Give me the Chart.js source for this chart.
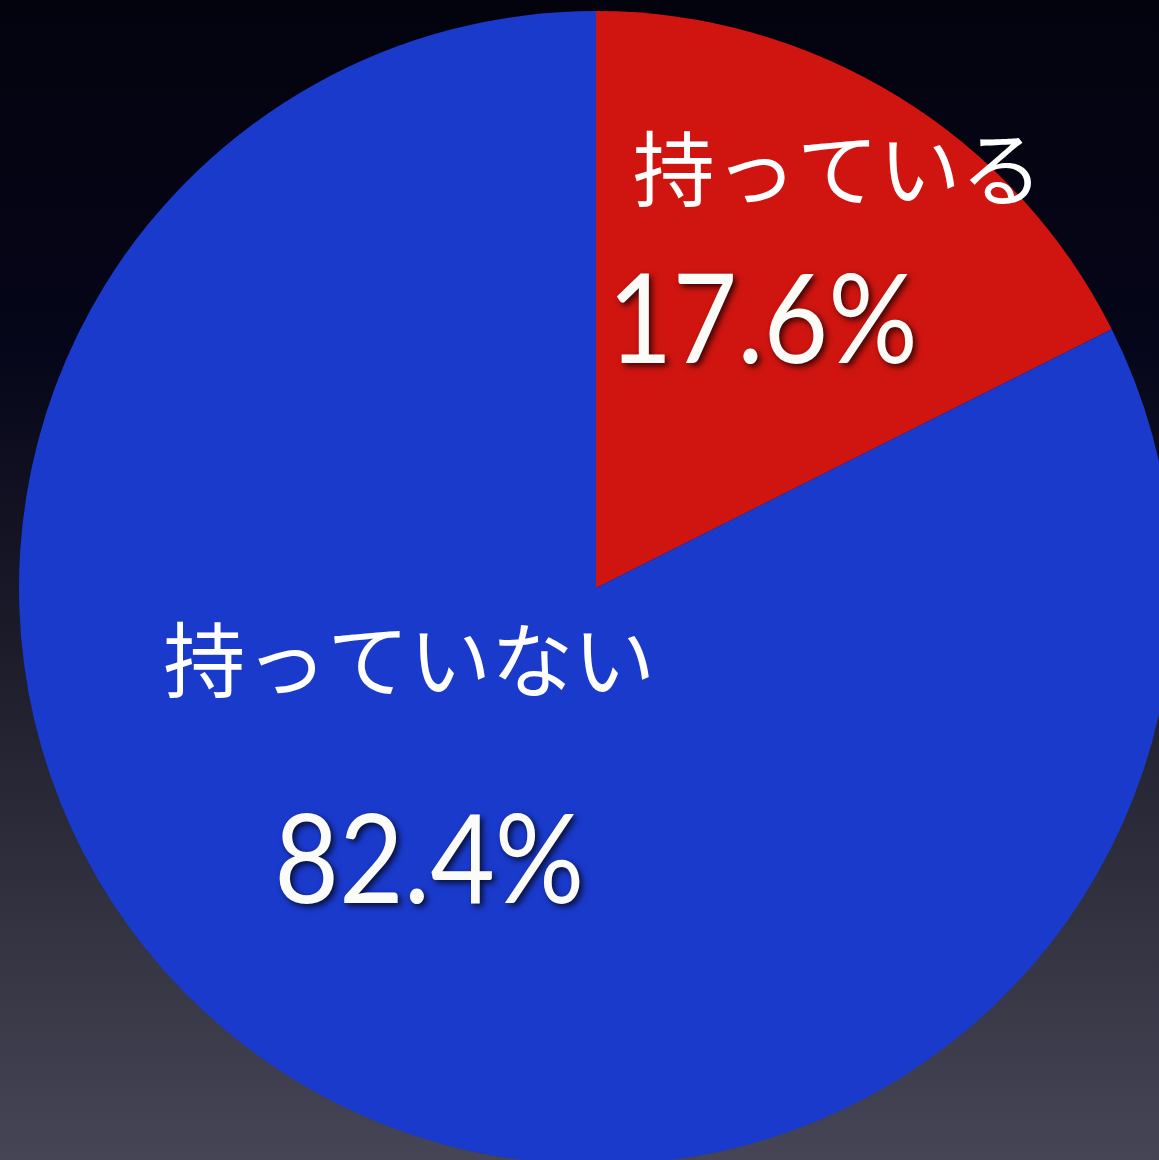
<!DOCTYPE html>
<html>
<head>
<meta charset="utf-8">
<script src="https://cdn.jsdelivr.net/npm/chart.js@4/dist/chart.umd.min.js"></script>
<style>
  html, body { margin: 0; padding: 0; overflow: hidden; width: 1159px; height: 1160px; }
  body { background: linear-gradient(to bottom, #03030e 0%, #06061a 30%, #1b1b2a 55%, #333342 80%, #454555 100%); }
  #wrap { position: absolute; left: 0; top: 0; }
</style>
</head>
<body>
<div id="wrap"><canvas id="pie" width="1192" height="1176"></canvas></div>
<script>
const labels = ['持っている', '持っていない'];
const values = [17.6, 82.4];
const colors = ['#d01510', '#1a3acc'];

// name label offset from the percentage text, in px
const nameOffsets = [{ dx: 75, dy: -154 }, { dx: -20, dy: -203 }];

const labelPlugin = {
    id: 'sliceLabels',
    afterDatasetsDraw(chart) {
        const ctx = chart.ctx;
        const arcs = chart.getDatasetMeta(0).data;
        arcs.forEach((arc, i) => {
            const mid = (arc.startAngle + arc.endAngle) / 2;
            const r = arc.outerRadius * 0.55;
            const x = arc.x + Math.cos(mid) * r;
            const y = arc.y + Math.sin(mid) * r + 5;

            ctx.save();
            ctx.textAlign = 'center';
            ctx.textBaseline = 'middle';

            // percentage, with a soft drop shadow
            ctx.shadowColor = 'rgba(0,0,0,0.75)';
            ctx.shadowBlur = 6;
            ctx.shadowOffsetX = 3;
            ctx.shadowOffsetY = 3;
            ctx.fillStyle = '#fbfbf8';
            ctx.font = '400 124px Lato, "DejaVu Sans", sans-serif';
            ctx.translate(x, y);
            ctx.scale(0.9, 1);
            ctx.fillText(values[i].toFixed(1) + '%', 0, 0);
            ctx.restore();

            // category name
            ctx.save();
            ctx.textAlign = 'center';
            ctx.textBaseline = 'middle';
            ctx.fillStyle = '#ffffff';
            ctx.font = '400 82px "Noto Sans CJK JP", sans-serif';
            ctx.fillText(labels[i], x + nameOffsets[i].dx, y + nameOffsets[i].dy);
            ctx.restore();
        });
    }
};

new Chart(document.getElementById('pie'), {
    type: 'pie',
    data: {
        labels: labels,
        datasets: [{
            data: values,
            backgroundColor: colors,
            borderWidth: 0,
            hoverOffset: 0
        }]
    },
    options: {
        responsive: false,
        animation: false,
        layout: { padding: { left: 19, right: 19, top: 11, bottom: 11 } },
        plugins: {
            legend: { display: false },
            tooltip: { enabled: false }
        }
    },
    plugins: [labelPlugin]
});
</script>
</body>
</html>
